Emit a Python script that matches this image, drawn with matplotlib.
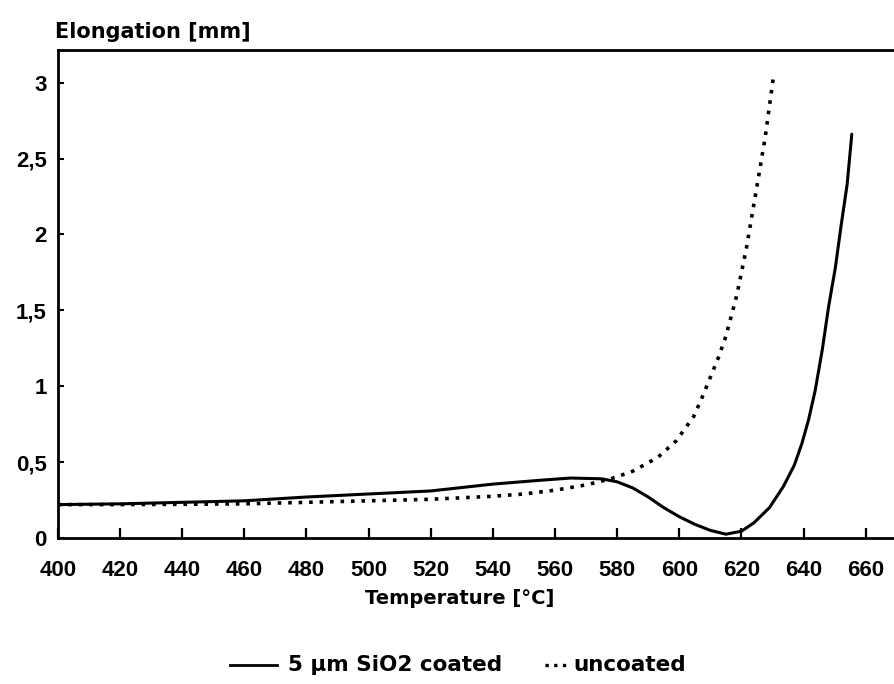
import matplotlib.pyplot as plt
from matplotlib.lines import Line2D

# courbes
T_coated = [400, 420, 440, 460, 480, 500, 520, 540, 555, 565, 575, 580, 585, 590,
            595, 600, 605, 610, 615, 620, 624, 629, 633.5, 637, 639.4, 641.6,
            643.7, 646, 648, 650.2, 652, 654, 655.5]
E_coated = [0.22, 0.225, 0.235, 0.245, 0.27, 0.29, 0.31, 0.355, 0.38, 0.395, 0.39,
            0.37, 0.33, 0.27, 0.2, 0.14, 0.09, 0.05, 0.025, 0.045, 0.1, 0.2, 0.34,
            0.48, 0.62, 0.78, 0.97, 1.24, 1.52, 1.78, 2.05, 2.33, 2.66]

T_uncoated = [400, 420, 440, 460, 480, 500, 520, 540, 550, 560, 570, 578, 585, 593,
              599, 604.6, 607, 610, 612.6, 615, 618.5, 621.5, 624, 625.5, 627.7,
              630.3]
E_uncoated = [0.22, 0.22, 0.222, 0.225, 0.235, 0.245, 0.255, 0.275, 0.29, 0.315,
              0.35, 0.39, 0.44, 0.53, 0.64, 0.8, 0.91, 1.06, 1.19, 1.33, 1.6, 1.9,
              2.2, 2.38, 2.65, 3.04]

xticks = list(range(400, 661, 20))
yticks = [0, 0.5, 1, 1.5, 2, 2.5, 3]
ylabels = ['0', '0,5', '1', '1,5', '2', '2,5', '3']

bold = 'DejaVu Sans'
tickfont = 'Liberation Sans'
W, H = 895, 684

fig = plt.figure(figsize=(8.95, 6.84), dpi=100)
ax = fig.add_axes([57.8 / W, 1 - 538 / H, 1 - 57.8 / W, 488 / H])

ax.plot(T_coated, E_coated, color='black', lw=2.2, solid_capstyle='round')
ax.plot(T_uncoated, E_uncoated, color='black', lw=2.6, linestyle=(0, (1, 1.9)))

ax.set_xlim(400, 669.4)
ax.set_ylim(0, 3.215)
ax.spines['right'].set_visible(False)
for s in ['left', 'top', 'bottom']:
    ax.spines[s].set_linewidth(2)

ax.set_xticks(xticks)
ax.set_xticklabels([str(t) for t in xticks], fontfamily=tickfont,
                   fontweight='bold', fontsize=16)
ax.set_yticks(yticks)
ax.set_yticklabels(ylabels, fontfamily=tickfont, fontweight='bold', fontsize=16)
ax.tick_params(axis='x', direction='in', length=7.5, width=1.6, pad=16)
ax.tick_params(axis='y', direction='in', length=4, width=1.5, pad=8)

fig.text(55 / W, 1 - 32 / H, 'Elongation [mm]', fontfamily=bold,
         fontweight='bold', fontsize=15, ha='left', va='center')
fig.text(460 / W, 1 - 599 / H, 'Temperature [°C]', fontfamily=bold,
         fontweight='bold', fontsize=14, ha='center', va='center')

# légende en bas
ly = 1 - 665 / H
fig.add_artist(Line2D([230 / W, 277 / W], [ly, ly], transform=fig.transFigure,
                      color='black', lw=2))
fig.text(288 / W, ly, '5 µm SiO2 coated', fontfamily=bold, fontweight='bold',
         fontsize=15.5, ha='left', va='center')
fig.add_artist(Line2D([545 / W, 567 / W], [ly, ly], transform=fig.transFigure,
                      color='black', lw=2.4, linestyle=(0, (1, 1.6))))
fig.text(573 / W, ly, 'uncoated', fontfamily=bold, fontweight='bold',
         fontsize=15.5, ha='left', va='center')

fig.savefig('out.png', dpi=100)
